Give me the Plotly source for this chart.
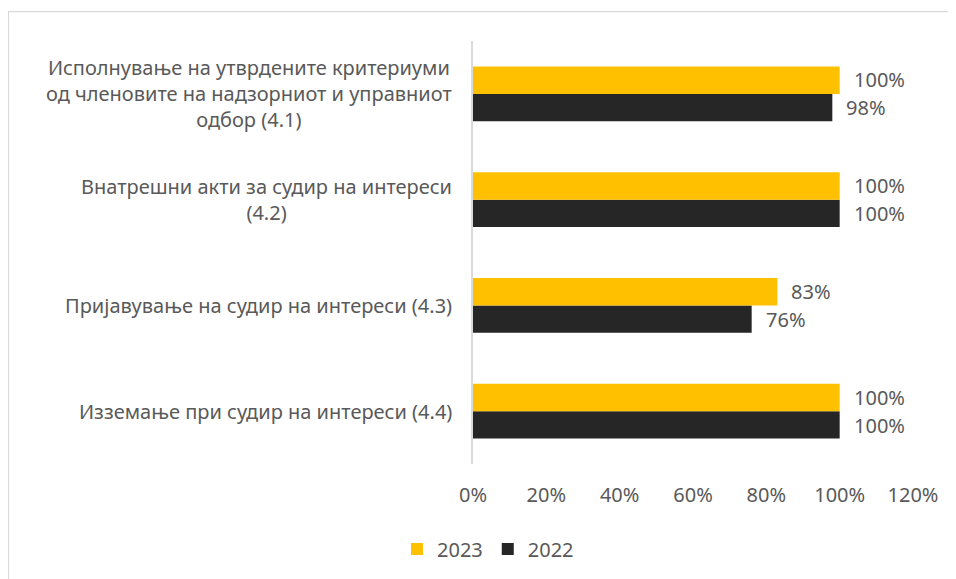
import plotly.graph_objects as go

categories = [
    "Исполнување на утврдените критериуми<br>од членовите на надзорниот и управниот<br>одбор (4.1)",
    "Внатрешни акти за судир на интереси<br>(4.2)",
    "Пријавување на судир на интереси (4.3)",
    "Изземање при судир на интереси (4.4)",
]
cat_ids = ["c4.1", "c4.2", "c4.3", "c4.4"]
values_2023 = [1.00, 1.00, 0.83, 1.00]
values_2022 = [0.98, 1.00, 0.76, 1.00]
x_ticks = [0, 0.2, 0.4, 0.6, 0.8, 1.0, 1.2]
x_tick_labels = ["0%", "20%", "40%", "60%", "80%", "100%", "120%"]

C2023 = "#FFC000"
C2022 = "#262626"
TXT = "#595959"
FONT = "Noto Sans"
FS = 20

fig = go.Figure()
fig.add_trace(go.Bar(y=cat_ids, x=values_2022, orientation="h", name="2022",
                     marker=dict(color=C2022, line=dict(width=0))))
fig.add_trace(go.Bar(y=cat_ids, x=values_2023, orientation="h", name="2023",
                     marker=dict(color=C2023, line=dict(width=0))))

annotations = []
for cid, lab in zip(cat_ids, categories):
    annotations.append(dict(x=0, y=cid, xref="paper", yref="y", text=lab,
                            xanchor="right", yanchor="middle", align="center",
                            xshift=-19, showarrow=False,
                            font=dict(family=FONT, size=FS, color=TXT)))
for cid, v in zip(cat_ids, values_2023):
    annotations.append(dict(x=v, y=cid, xref="x", yref="y", text=f"{round(v*100)}%",
                            xanchor="left", yanchor="middle", xshift=12, yshift=14,
                            showarrow=False, font=dict(family=FONT, size=FS, color=TXT)))
for cid, v in zip(cat_ids, values_2022):
    annotations.append(dict(x=v, y=cid, xref="x", yref="y", text=f"{round(v*100)}%",
                            xanchor="left", yanchor="middle", xshift=12, yshift=-14,
                            showarrow=False, font=dict(family=FONT, size=FS, color=TXT)))

# page body has an 8px margin: figure coordinates = screen pixels - 8
W, H = 948, 571
ml, mr, mt, mb = 465, 43, 33, 114
pw, ph = W - ml - mr, H - mt - mb

fig.update_layout(
    width=W, height=H,
    margin=dict(l=ml, r=mr, t=mt, b=mb),
    plot_bgcolor="white", paper_bgcolor="white",
    barmode="group", bargap=0.48, bargroupgap=0,
    font=dict(family=FONT, size=FS, color=TXT),
    xaxis=dict(range=[0, 1.2], tickvals=x_ticks, ticktext=x_tick_labels,
               showgrid=False, zeroline=False, showline=False, ticks="",
               ticklen=0, ticklabelstandoff=17,
               tickfont=dict(family=FONT, size=FS, color=TXT)),
    yaxis=dict(type="category", categoryorder="array", categoryarray=cat_ids[::-1],
               showticklabels=False, showgrid=False, zeroline=False,
               showline=True, linecolor="#D9D9D9", linewidth=1.5, ticks=""),
    legend=dict(orientation="h", x=(488 - 473) / pw, xanchor="center",
                y=-(541 - 457) / ph, yanchor="middle", traceorder="reversed",
                font=dict(family=FONT, size=FS, color=TXT),
                itemwidth=30),
    annotations=annotations,
    shapes=[dict(type="rect", xref="paper", yref="paper",
                 x0=(0.5 - ml) / pw, x1=(W + 20 - ml) / pw,
                 y0=-(H + 20 - mt - ph) / ph, y1=1 + (mt - 3.5) / ph,
                 line=dict(color="#D9D9D9", width=1.2), fillcolor="rgba(0,0,0,0)",
                 layer="below")],
)

fig.write_html("out.html")
